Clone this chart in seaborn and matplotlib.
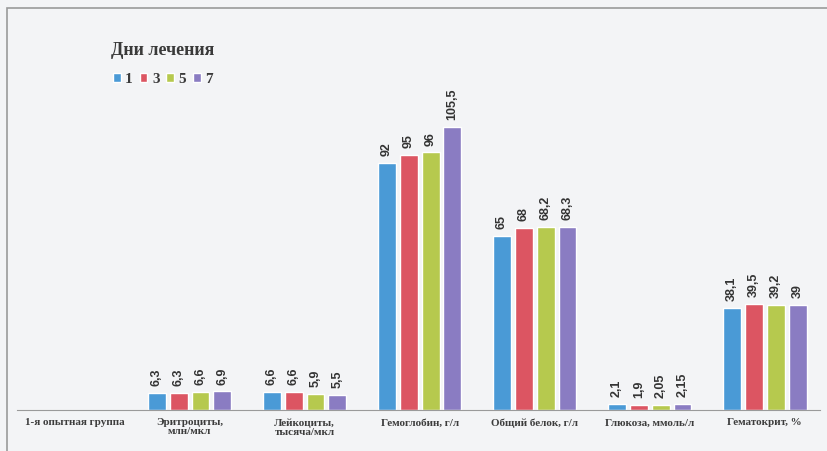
import pandas as pd
import seaborn as sns
import matplotlib.pyplot as plt
from matplotlib.patches import Rectangle

# Показатели крови по дням лечения
categories = ['1-я опытная группа', 'Эритроциты,\nмлн/мкл', 'Лейкоциты,\nтысяча/мкл',
              'Гемоглобин, г/л', 'Общий белок, г/л', 'Глюкоза, ммоль/л', 'Гематокрит, %']
days = ['1', '3', '5', '7']
day1 = [6.3, 6.6, 92, 65, 2.1, 38.1]
day3 = [6.3, 6.6, 95, 68, 1.9, 39.5]
day5 = [6.6, 5.9, 96, 68.2, 2.05, 39.2]
day7 = [6.9, 5.5, 105.5, 68.3, 2.15, 39]
colors = ['#4a9ad6', '#dc5562', '#b6c94e', '#8a7cc2']

rows = []
for d, vals in zip(days, [day1, day3, day5, day7]):
    for c, v in zip(categories[1:], vals):
        rows.append({'cat': c, 'day': d, 'value': v})
df = pd.DataFrame(rows)

sns.set_style('white')
plt.rcParams['font.family'] = ['Liberation Serif', 'DejaVu Serif']

fig = plt.figure(figsize=(8.28, 4.51), dpi=100)
fig.patch.set_facecolor('#f3f4f6')
# рамка как на скане
fig.patches.append(Rectangle((7 / 828, -0.1), 1.2, 1.1 - 8 / 451, transform=fig.transFigure,
                             fill=False, edgecolor='#9a9a9a', linewidth=1.2))

ax = fig.add_axes([17 / 828, 41 / 451, 803 / 828, 389 / 451])
ax.set_facecolor('none')
sns.barplot(data=df, x='cat', y='value', hue='day', order=categories, hue_order=days,
            palette=colors, width=0.76, gap=0.18, saturation=1, ax=ax)

ax.set_xlim(-0.5, 6.48)
ax.set_ylim(0, 145)
ax.set_xlabel('')
ax.set_ylabel('')
ax.set_yticks([])
for s in ['top', 'right', 'left']:
    ax.spines[s].set_visible(False)
ax.spines['bottom'].set_color('#9a9a9a')
ax.tick_params(axis='x', length=0, pad=6)
ax.set_xticks(range(len(categories)))
ax.set_xticklabels(categories, fontsize=8, fontweight='bold', color='#3c3c3c', linespacing=1.0)

for cont in ax.containers:
    ax.bar_label(cont, labels=[f'{v:g}'.replace('.', ',') for v in cont.datavalues],
                 rotation=90, padding=5, fontsize=9, fontweight='bold', color='#333333',
                 family='Liberation Sans')

handles, labels = ax.get_legend_handles_labels()
leg = ax.legend(handles, labels, ncol=4, frameon=False, title='Дни лечения',
                loc='center', bbox_to_anchor=(163 / 828, 1 - 64 / 451),
                bbox_transform=fig.transFigure, handlelength=0.5, handleheight=0.5,
                handletextpad=0.3, columnspacing=0.45,
                prop={'weight': 'bold', 'size': 11})
leg.get_title().set_fontweight('bold')
leg.get_title().set_fontsize(13)
leg.get_title().set_color('#3a3a3a')
leg._legend_box.sep = 10
for t in leg.get_texts():
    t.set_color('#3a3a3a')

fig.savefig('out.png', dpi=100, facecolor=fig.get_facecolor())
